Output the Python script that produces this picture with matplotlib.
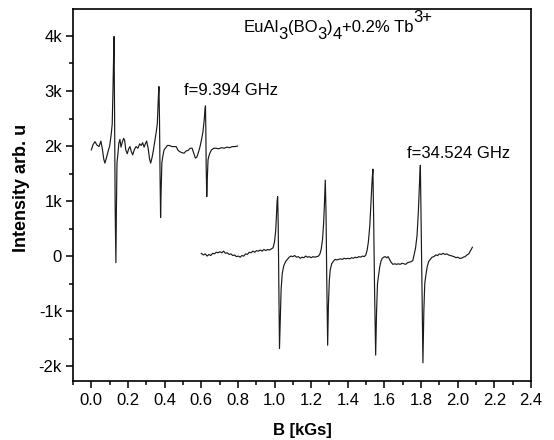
import matplotlib
matplotlib.use("Agg")
import matplotlib.pyplot as plt
from matplotlib.ticker import MultipleLocator, FuncFormatter
from matplotlib.transforms import offset_copy

plt.rcParams['font.family'] = ['Liberation Sans', 'DejaVu Sans']

# f = 9.394 GHz spectrum (B in kGs, intensity in arb. units)
b_x = [0.000, 0.010, 0.020, 0.030, 0.042, 0.052, 0.060, 0.068, 0.074, 0.082,
       0.092, 0.100, 0.108, 0.114, 0.118, 0.122, 0.124, 0.127, 0.130, 0.134,
       0.137, 0.140, 0.145, 0.150, 0.156, 0.162, 0.168, 0.176, 0.182, 0.188,
       0.196, 0.204, 0.211, 0.218, 0.226, 0.234, 0.244, 0.254, 0.264, 0.272,
       0.280, 0.288, 0.296, 0.302, 0.310, 0.318, 0.324, 0.332, 0.339, 0.347,
       0.353, 0.360, 0.366, 0.369, 0.372, 0.375, 0.378, 0.381, 0.385, 0.390,
       0.397, 0.404, 0.415, 0.426, 0.440, 0.452, 0.463, 0.472, 0.481, 0.494,
       0.506, 0.517, 0.528, 0.540, 0.550, 0.560, 0.568, 0.576, 0.586, 0.594,
       0.601, 0.609, 0.616, 0.620, 0.623, 0.625, 0.627, 0.630, 0.633, 0.637,
       0.641, 0.648, 0.656, 0.668, 0.681, 0.695, 0.710, 0.725, 0.740, 0.755,
       0.770, 0.785, 0.798]
x_band = [1930, 2030, 2080, 2020, 1990, 2090, 1950, 1760, 1690, 1780,
          1910, 2000, 2200, 2400, 3000, 3700, 3990, 2500, 900, -120,
          900, 1700, 1850, 2050, 2120, 1980, 2060, 2140, 2100, 1930,
          1860, 1950, 1990, 1900, 1840, 1930, 1990, 1960, 2040, 2010,
          2060, 1980, 2050, 2090, 1960, 1760, 1690, 1800, 1930, 2100,
          2230, 2400, 2900, 3080, 2500, 1500, 700, 1200, 1700, 1810,
          1930, 1960, 2010, 2010, 1990, 1990, 1990, 1930, 1900, 1880,
          1870, 1910, 1920, 1960, 1960, 1860, 1780, 1800, 1900, 2000,
          2110, 2250, 2470, 2650, 2730, 2300, 1600, 1080, 1400, 1750,
          1810, 1880, 1930, 1960, 1960, 1950, 1970, 1960, 1980, 1970,
          1990, 1990, 2000]

# f = 34.524 GHz spectrum
b_q = [0.600, 0.612, 0.622, 0.632, 0.642, 0.652, 0.662, 0.672, 0.682, 0.692,
       0.702, 0.712, 0.722, 0.732, 0.742, 0.752, 0.762, 0.772, 0.782, 0.792,
       0.802, 0.812, 0.822, 0.832, 0.842, 0.852, 0.862, 0.872, 0.882, 0.892,
       0.902, 0.912, 0.922, 0.932, 0.942, 0.952, 0.962, 0.972, 0.982, 0.992,
       1.000, 1.006, 1.010, 1.014, 1.017, 1.020, 1.023, 1.027, 1.031, 1.036,
       1.042, 1.050, 1.060, 1.070, 1.080, 1.090, 1.100, 1.110, 1.120, 1.130,
       1.140, 1.150, 1.160, 1.170, 1.180, 1.190, 1.200, 1.210, 1.220, 1.230,
       1.240, 1.248, 1.255, 1.262, 1.268, 1.273, 1.277, 1.281, 1.285, 1.290,
       1.294, 1.299, 1.304, 1.312, 1.320, 1.330, 1.340, 1.350, 1.360, 1.370,
       1.380, 1.390, 1.400, 1.410, 1.420, 1.430, 1.440, 1.450, 1.460, 1.470,
       1.480, 1.490, 1.498, 1.505, 1.512, 1.520, 1.527, 1.533, 1.537, 1.541,
       1.546, 1.552, 1.557, 1.562, 1.567, 1.574, 1.581, 1.588, 1.596, 1.604,
       1.612, 1.620, 1.628, 1.636, 1.646, 1.656, 1.666, 1.676, 1.686, 1.696,
       1.706, 1.716, 1.726, 1.736, 1.746, 1.755, 1.762, 1.770, 1.778, 1.785,
       1.791, 1.796, 1.800, 1.805, 1.810, 1.815, 1.820, 1.825, 1.833, 1.841,
       1.850, 1.860, 1.870, 1.880, 1.890, 1.900, 1.910, 1.920, 1.930, 1.940,
       1.950, 1.960, 1.970, 1.980, 1.990, 2.000, 2.010, 2.020, 2.030, 2.040,
       2.050, 2.060, 2.070, 2.080]
q_band = [50, 20, 40, 0, 30, 10, 50, 40, 70, 60,
          80, 60, 90, 50, 60, 30, 40, 10, 20, -10,
          0, -20, 10, 0, 40, 30, 70, 60, 90, 70,
          100, 90, 110, 90, 120, 100, 120, 110, 130, 150,
          260, 450, 700, 1000, 1080, 600, -300, -1680, -1200, -600,
          -320, -180, -100, -60, -20, 0, -10, 10, -20, -10,
          -40, -20, -30, 0, -20, -10, -30, -10, -20, -10,
          0, 40, 130, 300, 600, 1000, 1380, 800, -400, -1620,
          -900, -450, -250, -140, -100, -60, -70, -60, -50, -60,
          -40, -50, -40, -50, -30, -40, -20, -30, -10, -20,
          0, -10, 20, 100, 250, 550, 1000, 1400, 1580, 700,
          -600, -1800, -1000, -500, -370, -200, -90, -40, -20, -10,
          -30, -10, -60, -110, -150, -140, -150, -140, -150, -130,
          -140, -150, -120, -110, -100, -80, 30, 150, 380, 800,
          1300, 1650, 700, -600, -1940, -1000, -500, -370, -200, -100,
          -60, -20, -10, 20, 10, 40, 30, 50, 30, 40,
          20, 10, 0, -10, -30, -20, -40, -40, -20, -10,
          20, 40, 100, 160]

y_ticks = [-2000, -1000, 0, 1000, 2000, 3000, 4000]

# sample formula: (piece, vertical shift in points)
formula = [('EuAl', 0), ('3', -5.3), ('(BO', 0), ('3', -5.3), (')', 0),
           ('4', -5.3), ('+0.2% Tb', 0), ('3+', 7.2)]

fig = plt.figure(figsize=(5.54, 4.4), dpi=100)
ax = fig.add_axes([0.1318, 0.1341, 0.8267, 0.8454])

ax.plot(b_x, x_band, color='#1a1a1a', lw=0.85)
ax.plot(b_q, q_band, color='#1a1a1a', lw=0.85)

ax.set_xlim(-0.1, 2.4)
ax.set_ylim(-2270, 4490)
ax.xaxis.set_major_locator(MultipleLocator(0.2))
ax.xaxis.set_minor_locator(MultipleLocator(0.1))
ax.set_yticks(y_ticks)
ax.yaxis.set_minor_locator(MultipleLocator(500))
ax.xaxis.set_major_formatter(FuncFormatter(lambda v, p: f'{v:.1f}'))
ax.yaxis.set_major_formatter(FuncFormatter(
    lambda v, p: '0' if v == 0 else f'{int(round(v / 1000))}k'))

ax.tick_params(which='major', direction='out', length=5, width=1.1,
               labelsize=12, pad=3)
ax.tick_params(which='minor', direction='out', length=3, width=1.1)
ax.tick_params(axis='x', which='major', pad=4)
for s in ax.spines.values():
    s.set_linewidth(1.2)

ax.set_xlabel('B [kGs]', fontsize=12, fontweight='bold')
ax.set_ylabel('Intensity arb. u', fontsize=13, fontweight='bold')
ax.xaxis.set_label_coords(0.5, -0.113)
ax.yaxis.set_label_coords(-0.094, 0.52)

# formula built piece by piece so the sub/superscripts stay full size
renderer = fig.canvas.get_renderer()
dx = 0.0
for piece, dy in formula:
    tr = offset_copy(ax.transData, fig=fig, x=dx, y=dy, units='points')
    t = ax.text(0.83, 4070, piece, fontsize=12, va='baseline', ha='left',
                transform=tr)
    dx += t.get_window_extent(renderer).width * 72 / fig.dpi

ax.text(0.508, 2930, 'f=9.394 GHz', fontsize=12, va='baseline', ha='left')
ax.text(1.721, 1780, 'f=34.524 GHz', fontsize=12, va='baseline', ha='left')

fig.savefig('out.png', dpi=100)
